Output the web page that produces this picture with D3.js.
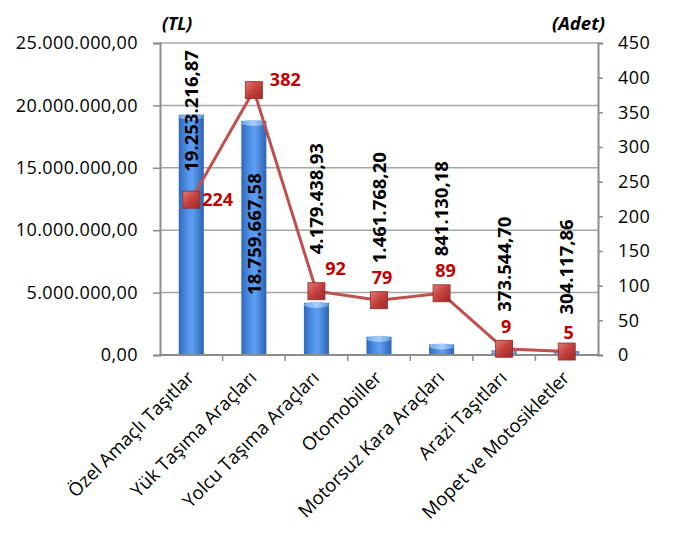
<!DOCTYPE html>
<html>
<head>
<meta charset="utf-8">
<script src="https://cdn.jsdelivr.net/npm/d3@7"></script>
<style>
  html, body { margin: 0; padding: 0; background: #fff; }
  svg { display: block; }
  text { font-family: "Open Sans", sans-serif; }
</style>
</head>
<body>
<svg id="chart" width="674" height="533"></svg>
<script>
// ---- Data ----
const categories = [
  "Özel Amaçlı Taşıtlar",
  "Yük Taşıma Araçları",
  "Yolcu Taşıma Araçları",
  "Otomobiller",
  "Motorsuz Kara Araçları",
  "Arazi Taşıtları",
  "Mopet ve Motosikletler"
];
const amountTL = [19253216.87, 18759667.58, 4179438.93, 1461768.20, 841130.18, 373544.70, 304117.86];
const countAdet = [224, 382, 92, 79, 89, 9, 5];
const leftTicks = [0, 5000000, 10000000, 15000000, 20000000, 25000000];
const rightTicks = [0, 50, 100, 150, 200, 250, 300, 350, 400, 450];
const leftTitle = "(TL)";
const rightTitle = "(Adet)";

// ---- Layout ----
const W = 674, H = 533;
const plot = { left: 160, right: 598, top: 43, bottom: 355 };

const trLocale = d3.formatLocale({ decimal: ",", thousands: ".", grouping: [3], currency: ["", ""] });
const fmtTL = trLocale.format(",.2f");

const svg = d3.select("#chart");
svg.append("rect").attr("width", W).attr("height", H).attr("fill", "#fff");

const x = d3.scaleBand().domain(categories).range([plot.left, plot.right]).padding(0);
const yL = d3.scaleLinear().domain([0, 25000000]).range([plot.bottom, plot.top]);
const yR = d3.scaleLinear().domain([0, 450]).range([plot.bottom, plot.top]);

const defs = svg.append("defs");
const bg = defs.append("linearGradient").attr("id", "barGrad").attr("x1", 0).attr("x2", 1).attr("y1", 0).attr("y2", 0);
bg.append("stop").attr("offset", "0%").attr("stop-color", "#2f68bd");
bg.append("stop").attr("offset", "35%").attr("stop-color", "#5293ea");
bg.append("stop").attr("offset", "55%").attr("stop-color", "#5e9ef2");
bg.append("stop").attr("offset", "100%").attr("stop-color", "#2c62b2");
const capG = defs.append("linearGradient").attr("id", "capGrad").attr("x1", 0).attr("x2", 1).attr("y1", 0).attr("y2", 0);
capG.append("stop").attr("offset", "0%").attr("stop-color", "#6aa6ee");
capG.append("stop").attr("offset", "50%").attr("stop-color", "#a9d0fa");
capG.append("stop").attr("offset", "100%").attr("stop-color", "#5b95e0");
const mg = defs.append("linearGradient").attr("id", "mkGrad").attr("x1", 0).attr("x2", 1).attr("y1", 0).attr("y2", 1);
mg.append("stop").attr("offset", "0%").attr("stop-color", "#e37a76");
mg.append("stop").attr("offset", "50%").attr("stop-color", "#c4403c");
mg.append("stop").attr("offset", "100%").attr("stop-color", "#9c2a27");

// gridlines
svg.append("g").selectAll("line").data(leftTicks.filter(d => d > 0)).join("line")
  .attr("x1", plot.left).attr("x2", plot.right)
  .attr("y1", d => yL(d)).attr("y2", d => yL(d))
  .attr("stroke", "#a6a6a6").attr("stroke-width", 1.5);

// bars (cylinder look)
const bw = x.bandwidth() * 0.4;
const bars = svg.append("g");
bars.selectAll("rect.bar").data(amountTL).join("rect").attr("class", "bar")
  .attr("x", (d, i) => x(categories[i]) + x.bandwidth() / 2 - bw / 2)
  .attr("y", d => yL(d))
  .attr("width", bw)
  .attr("height", d => plot.bottom - yL(d))
  .attr("fill", "url(#barGrad)");
bars.selectAll("ellipse.cap").data(amountTL).join("ellipse").attr("class", "cap")
  .attr("cx", (d, i) => x(categories[i]) + x.bandwidth() / 2)
  .attr("cy", d => yL(d) + 2)
  .attr("rx", bw / 2)
  .attr("ry", d => Math.min(3, (plot.bottom - yL(d)) / 2))
  .attr("fill", "url(#capGrad)");

// axes
const axL = svg.append("g").attr("transform", `translate(${plot.left},0)`)
  .call(d3.axisLeft(yL).tickValues(leftTicks).tickFormat(fmtTL).tickSize(7).tickPadding(15));
const axR = svg.append("g").attr("transform", `translate(${plot.right},0)`)
  .call(d3.axisRight(yR).tickValues(rightTicks).tickFormat(d3.format("d")).tickSize(5).tickPadding(15));
[axL, axR].forEach(g => {
  g.select(".domain").attr("stroke", "#8c8c8c").attr("stroke-width", 2);
  g.selectAll(".tick line").attr("stroke", "#8c8c8c").attr("stroke-width", 1.5);
  g.selectAll(".tick text").attr("font-size", 18).attr("letter-spacing", 0.4)
    .attr("fill", "#000").attr("font-family", "Open Sans");
});

// x axis
const axX = svg.append("g");
axX.append("line").attr("x1", plot.left).attr("x2", plot.right)
  .attr("y1", plot.bottom).attr("y2", plot.bottom)
  .attr("stroke", "#8c8c8c").attr("stroke-width", 2);
axX.selectAll("line.tk").data(categories.slice(1)).join("line").attr("class", "tk")
  .attr("x1", d => x(d)).attr("x2", d => x(d))
  .attr("y1", plot.bottom).attr("y2", plot.bottom + 6)
  .attr("stroke", "#8c8c8c").attr("stroke-width", 1.5);
axX.selectAll("text").data(categories).join("text")
  .attr("transform", d => `translate(${x(d) + x.bandwidth() / 2 + 4},${plot.bottom + 24}) rotate(-45)`)
  .attr("text-anchor", "end")
  .attr("font-size", 18.6)
  .attr("fill", "#000")
  .text(d => d);

// line series
const cx = i => x(categories[i]) + x.bandwidth() / 2;
const lineGen = d3.line().x((d, i) => cx(i)).y(d => yR(d));
svg.append("path").datum(countAdet)
  .attr("d", lineGen).attr("fill", "none")
  .attr("stroke", "#c0504d").attr("stroke-width", 3);
const ms = 17;
svg.append("g").selectAll("rect").data(countAdet).join("rect")
  .attr("x", (d, i) => cx(i) - ms / 2)
  .attr("y", d => yR(d) - ms / 2)
  .attr("width", ms).attr("height", ms)
  .attr("fill", "url(#mkGrad)")
  .attr("stroke", "#8e2a27").attr("stroke-width", 0.8);

// line value labels (placement: right, above-right, above)
const lineLabelOffset = [[11, 0, "start"], [16, -10, "start"], [19, -23, "middle"], [3, -23, "middle"], [4, -23, "middle"], [2, -22, "middle"], [2, -19, "middle"]];
svg.append("g").selectAll("text").data(countAdet).join("text")
  .attr("x", (d, i) => cx(i) + lineLabelOffset[i][0])
  .attr("y", (d, i) => yR(d) + lineLabelOffset[i][1])
  .attr("dy", "0.35em")
  .attr("text-anchor", (d, i) => lineLabelOffset[i][2])
  .attr("font-size", 18).attr("font-weight", "bold").attr("fill", "#c00000")
  .text(d => d);

// bar value labels (rotated)
const barLabelBase = (d, i) => {
  if (i === 0) return yL(d) + 57;
  if (i === 1) return yL(d) + 174;
  return yR(countAdet[i]) - 37;
};
svg.append("g").selectAll("text").data(amountTL).join("text")
  .attr("transform", (d, i) => `translate(${cx(i)},${barLabelBase(d, i)}) rotate(-90)`)
  .attr("dy", "0.36em")
  .attr("text-anchor", "start")
  .attr("font-size", 18.5).attr("font-weight", "bold").attr("fill", "#000")
  .text(d => fmtTL(d));

// axis titles
svg.append("text").attr("x", plot.left + 2).attr("y", 24).attr("dy", "0.35em")
  .attr("font-size", 17.5).attr("font-weight", "bold").attr("font-style", "italic").text(leftTitle);
svg.append("text").attr("x", 605).attr("y", 24).attr("dy", "0.35em").attr("text-anchor", "end")
  .attr("font-size", 18.5).attr("font-weight", "bold").attr("font-style", "italic").text(rightTitle);
</script>
</body>
</html>
